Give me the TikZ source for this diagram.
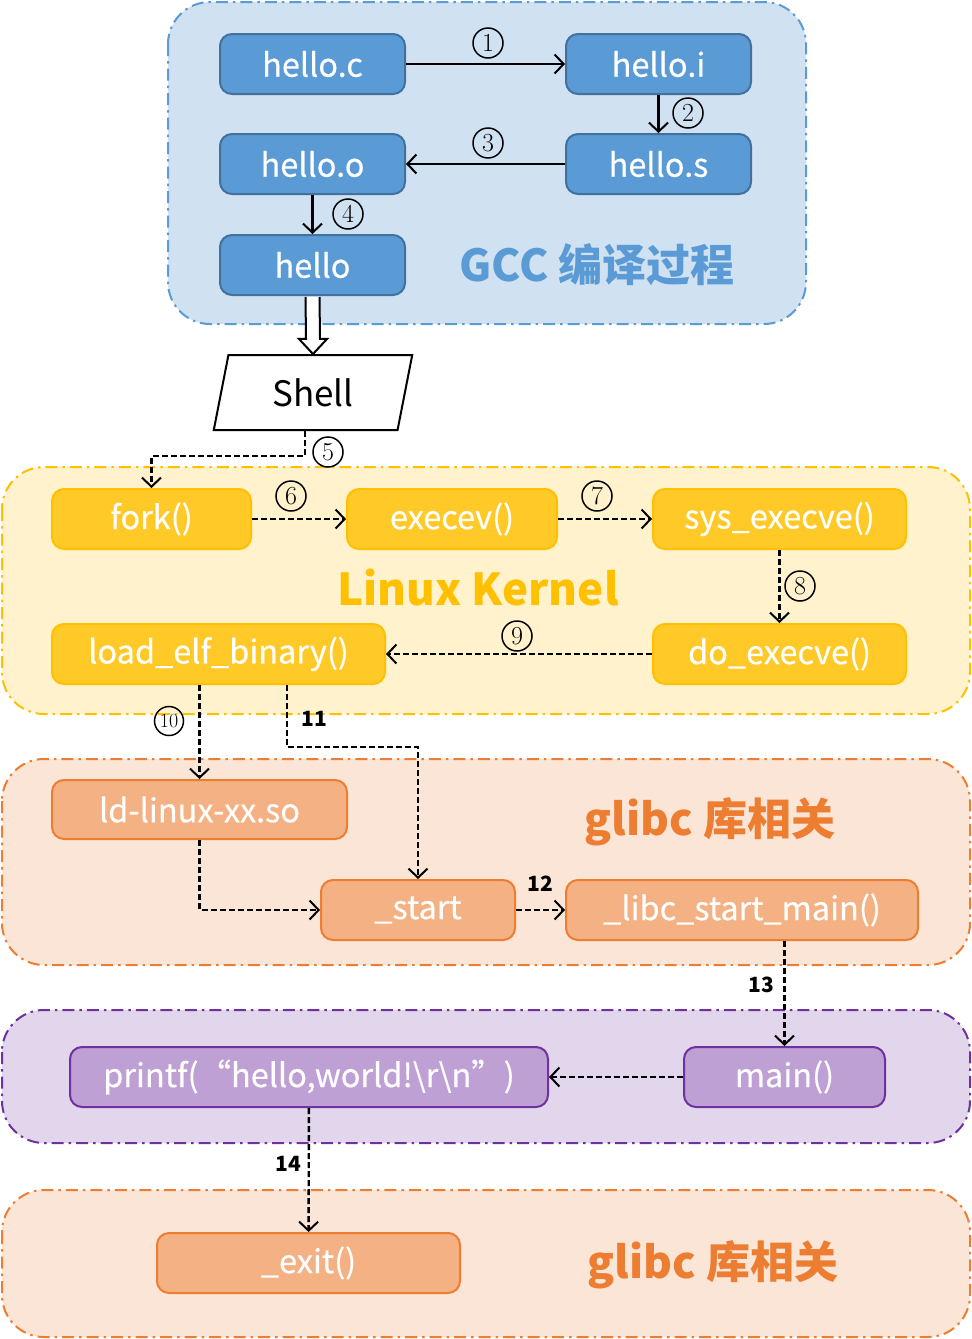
\documentclass[tikz,border=0pt]{standalone}
\usepackage{fontspec}
\newfontfamily\cjk{Noto Sans CJK SC}
\newfontfamily\cjkm[FakeBold=0.4]{Noto Sans CJK SC}
\usetikzlibrary{arrows.meta,shapes.geometric,calc}
\definecolor{bluefill}{HTML}{5B9BD5}
\definecolor{blueline}{HTML}{41719C}
\definecolor{bluebg}{HTML}{D0E1F2}
\definecolor{yelfill}{HTML}{FFCA28}
\definecolor{yelline}{HTML}{FFC000}
\definecolor{yelbg}{HTML}{FFF2CC}
\definecolor{orgfill}{HTML}{F4B183}
\definecolor{orgline}{HTML}{ED7D31}
\definecolor{orgbg}{HTML}{FBE5D6}
\definecolor{purfill}{HTML}{BEA0D4}
\definecolor{purline}{HTML}{7030A0}
\definecolor{purbg}{HTML}{E2D6EC}
\tikzset{
  box/.style={rounded corners=12pt, line width=2pt, minimum height=60pt, text=white,
    font=\cjkm\fontsize{32.5}{33}\selectfont, inner sep=0pt},
  bbox/.style={box, fill=bluefill, draw=blueline},
  ybox/.style={box, fill=yelfill, draw=yelline},
  obox/.style={box, fill=orgfill, draw=orgline},
  pbox/.style={box, fill=purfill, draw=purline},
  area/.style={rounded corners=42pt, line width=2pt, dash pattern=on 12pt off 5pt on 2.5pt off 5pt},
  title/.style={font=\cjk\bfseries\fontsize{44}{44}\selectfont},
  tip/.style={-{Straight Barb[length=9pt,width=19pt,line width=2pt]}},
  sarr/.style={tip, line width=2.5pt},
  darr/.style={tip, line width=2.4pt, dash pattern=on 6pt off 3pt},
  cnum/.style={circle, draw, line width=1.5pt, inner sep=0pt, minimum size=30pt, font=\fontsize{26}{26}\selectfont},
  tnum/.style={font=\cjk\bfseries\fontsize{21}{21}\selectfont},
}
\begin{document}
\begin{tikzpicture}[x=1pt,y=-1pt]
\useasboundingbox (0,0) rectangle (972,1339);
% containers
\draw[area, fill=bluebg, draw=bluefill] (168,2) rectangle (806,324);
\draw[area, fill=yelbg, draw=yelline] (2,467) rectangle (970,714);
\draw[area, fill=orgbg, draw=orgline] (2,759) rectangle (970,965);
\draw[area, fill=purbg, draw=purline] (2,1010) rectangle (970,1143);
\draw[area, fill=orgbg, draw=orgline] (2,1190) rectangle (970,1337);
% titles
\node[title, text=bluefill] (tgcc) at (597,265) {GCC 编译过程};
\node[title, text=yelline] (tker) at (478,588) {Linux Kernel};
\node[title, text=orgline] (tgl1) at (710,822) {glibc 库相关};
\node[title, text=orgline] (tgl2) at (713,1265) {glibc 库相关};
% GCC nodes
\node[bbox, minimum width=185pt] (hc) at (312.5,64) {hello.c};
\node[bbox, minimum width=185pt] (hi) at (658.5,64) {hello.i};
\node[bbox, minimum width=185pt] (hs) at (658.5,164) {hello.s};
\node[bbox, minimum width=185pt] (ho) at (312.5,164) {hello.o};
\node[bbox, minimum width=185pt] (h) at (312.5,265) {hello};
% shell
\node[trapezium, trapezium left angle=76, trapezium right angle=104, trapezium stretches=true,
  minimum width=200pt, minimum height=75pt, draw, line width=2pt, fill=white,
  font=\cjk\fontsize{35}{35}\selectfont, inner sep=0pt] (sh) at (313,392.5) {Shell};
% kernel nodes
\node[ybox, minimum width=199pt] (fork) at (151.5,519) {fork()};
\node[ybox, minimum width=210pt] (exe) at (452,519) {execev()};
\node[ybox, minimum width=253pt] (sys) at (779.5,519) {sys\_execve()};
\node[ybox, minimum width=253pt] (do) at (779.5,654) {do\_execve()};
\node[ybox, minimum width=333pt] (load) at (218.5,654) {load\_elf\_binary()};
% glibc nodes
\node[obox, minimum width=295pt, minimum height=59pt] (ld) at (199.5,809.5) {ld-linux-xx.so};
\node[obox, minimum width=194pt] (start) at (418,910) {\_start};
\node[obox, minimum width=352pt] (libc) at (742,910) {\_libc\_start\_main()};
% purple
\node[pbox, minimum width=478pt] (printf) at (309,1077) {printf(“hello,world!\textbackslash r\textbackslash n”)};
\node[pbox, minimum width=201pt] (main) at (784.5,1077) {main()};
% exit
\node[obox, minimum width=303pt] (exit) at (308.5,1263) {\_exit()};
% GCC arrows
\draw[sarr] (hc) -- (hi);
\draw[sarr] (hi) -- (hs);
\draw[sarr] (hs) -- (ho);
\draw[sarr] (ho) -- (h);
\node[cnum] (n1) at (488,43) {1};
\node[cnum] (n2) at (688,113) {2};
\node[cnum] (n3) at (488,143) {3};
\node[cnum] (n4) at (348,214) {4};
% hollow arrow hello -> shell
\draw[line width=2pt, fill=white, line join=miter]
  ($(h.south)+(-7,1)$) -- ($(sh.north)+(-7,-15)$) -- ($(sh.north)+(-14,-15)$) -- (sh.north)
  -- ($(sh.north)+(14,-15)$) -- ($(sh.north)+(7,-15)$) -- ($(h.south)+(7,1)$);
% shell -> fork
\draw[darr] ([xshift=-8pt]sh.south) -- ++(0,25) -| (fork.north);
\node[cnum] (n5) at (328,452) {5};
% kernel arrows
\draw[darr] (fork) -- (exe);
\draw[darr] (exe) -- (sys);
\draw[darr] (sys) -- (do);
\draw[darr] (do) -- (load);
\node[cnum] (n6) at (291,496) {6};
\node[cnum] (n7) at (597,496) {7};
\node[cnum] (n8) at (800,586) {8};
\node[cnum] (n9) at (517,636) {9};
% to glibc
\draw[darr] (ld.north |- load.south) -- (ld.north);
\node[cnum, minimum size=29pt, font=\fontsize{20}{20}\selectfont] (n10) at (169,721) {10};
\draw[darr] ([xshift=68.5pt]load.south) -- ++(0,62) -| (start.north);
\node[tnum] (t11) at (314,719) {11};
\draw[darr] (ld.south) |- (start.west);
\draw[darr] (start) -- (libc);
\node[tnum] (t12) at (540,884) {12};
\draw[darr] (main.north |- libc.south) -- (main.north);
\node[tnum] (t13) at (761,985) {13};
\draw[darr] (main) -- (printf);
\draw[darr] (printf) -- (exit);
\node[tnum] (t14) at (288,1164) {14};
\end{tikzpicture}
\end{document}
